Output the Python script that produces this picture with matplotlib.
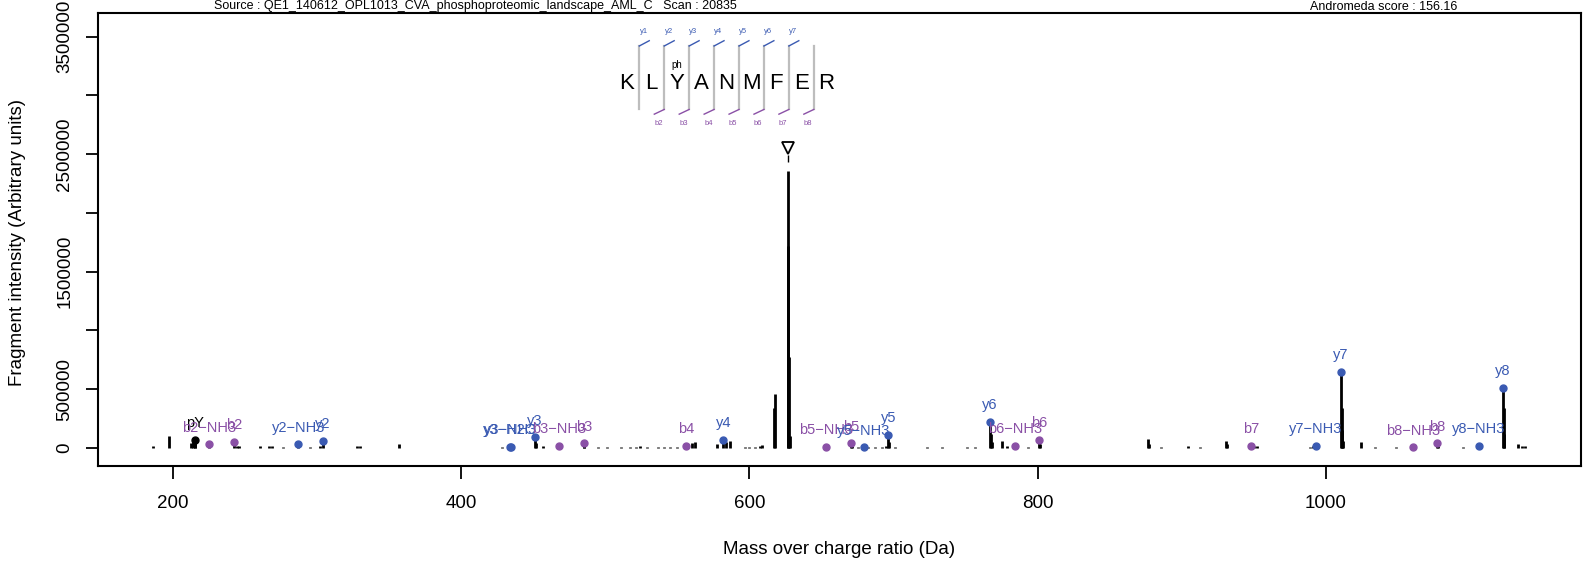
import numpy as np
import matplotlib
matplotlib.use("Agg")
import matplotlib.pyplot as plt

plt.rcParams["font.family"] = ["Liberation Sans", "DejaVu Sans"]

# -----------------------------
# data
# -----------------------------
peak_mz = [186.3, 197.4, 212.5, 213.5, 215.5, 244.0, 245.5, 260.4, 266.5, 268.7,
           276.0, 295.0, 302.0, 327.5, 329.8, 357.0,
           428.0, 452.0, 456.8, 485.5, 495.0, 501.0, 511.0, 517.0, 521.0, 524.0,
           529.0, 536.5, 541.0, 545.0, 549.5, 560.0, 562.0, 577.5, 584.0, 586.5,
           597.0, 600.0, 604.0, 607.0, 609.0, 617.2, 617.8, 626.5, 626.9, 627.3,
           627.8, 671.0, 675.4, 682.0, 687.0, 692.0, 695.0, 697.0, 701.0, 723.0,
           733.4, 750.8, 756.6, 767.5, 768.0, 775.0, 778.5, 793.6, 801.5,
           876.8, 877.5, 885.9, 904.6, 912.7, 930.5, 931.2, 950.0, 952.0, 989.0,
           991.0, 1011.0, 1011.5, 1012.0, 1024.4, 1034.0, 1049.0, 1078.0, 1095.4,
           1123.5, 1124.0, 1133.6, 1136.0, 1138.0]
peak_int = [0.02e6, 0.10e6, 0.04e6, 0.06e6, 0.07e6, 0.02e6, 0.015e6, 0.02e6, 0.015e6, 0.02e6,
            0.01e6, 0.01e6, 0.02e6, 0.015e6, 0.015e6, 0.03e6,
            0.01e6, 0.04e6, 0.02e6, 0.03e6, 0.01e6, 0.01e6, 0.01e6, 0.01e6, 0.01e6, 0.015e6,
            0.01e6, 0.01e6, 0.01e6, 0.01e6, 0.01e6, 0.04e6, 0.05e6, 0.03e6, 0.05e6, 0.06e6,
            0.01e6, 0.01e6, 0.01e6, 0.015e6, 0.025e6, 0.34e6, 0.46e6, 2.36e6, 1.72e6, 0.77e6,
            0.10e6, 0.02e6, 0.01e6, 0.01e6, 0.01e6, 0.01e6, 0.015e6, 0.05e6, 0.01e6, 0.01e6,
            0.01e6, 0.01e6, 0.01e6, 0.12e6, 0.05e6, 0.06e6, 0.02e6, 0.01e6, 0.03e6,
            0.08e6, 0.03e6, 0.01e6, 0.015e6, 0.01e6, 0.06e6, 0.03e6, 0.015e6, 0.015e6, 0.01e6,
            0.015e6, 0.34e6, 0.15e6, 0.06e6, 0.05e6, 0.01e6, 0.01e6, 0.03e6, 0.01e6,
            0.34e6, 0.12e6, 0.03e6, 0.02e6, 0.02e6]

ion_labels = ["pY", "b2\u2212NH3", "b2", "y2\u2212NH3", "y2", "y3\u2212H2O", "y3\u2212NH3", "y3",
              "b3\u2212NH3", "b3", "b4", "y4", "b5\u2212NH3", "b5", "y5\u2212NH3", "y5", "y6",
              "b6\u2212NH3", "b6", "b7", "y7\u2212NH3", "y7", "b8\u2212NH3", "b8", "y8\u2212NH3", "y8"]
ion_mz = [215.0, 225.0, 242.3, 287.0, 303.9, 433.7, 434.5, 451.2,
          468.1, 485.2, 556.0, 581.9, 653.2, 670.5, 679.3, 696.4, 767.0,
          784.3, 801.2, 948.1, 993.2, 1010.5, 1060.3, 1077.4, 1106.3, 1123.0]
ion_int = [0.07e6, 0.03e6, 0.05e6, 0.03e6, 0.06e6, 0.01e6, 0.012e6, 0.09e6,
           0.02e6, 0.04e6, 0.02e6, 0.07e6, 0.01e6, 0.04e6, 0.005e6, 0.11e6, 0.22e6,
           0.02e6, 0.07e6, 0.02e6, 0.02e6, 0.65e6, 0.005e6, 0.04e6, 0.02e6, 0.51e6]
ion_type = ["imm", "b", "b", "y", "y", "y", "y", "y",
            "b", "b", "b", "y", "b", "b", "y", "y", "y",
            "b", "b", "b", "y", "y", "b", "b", "y", "y"]

precursor_mz = 626.5
precursor_int = 2.55e6

sequence = ["K", "L", "Y", "A", "N", "M", "F", "E", "R"]
y_frag_labels = ["y1", "y2", "y3", "y4", "y5", "y6", "y7"]
b_frag_labels = ["b2", "b3", "b4", "b5", "b6", "b7", "b8"]

source_text = "Source : QE1_140612_OPL1013_CVA_phosphoproteomic_landscape_AML_C   Scan : 20835"
score_text = "Andromeda score : 156.16"

blue = "#3A5AB2"
purple = "#8A50A6"
colors = {"y": blue, "b": purple, "imm": "black"}

# -----------------------------
# figure
# -----------------------------
fig = plt.figure(figsize=(15.96, 5.64), dpi=100)
ax = fig.add_axes([0.0617, 0.1738, 0.9288, 0.8030])

ax.vlines(peak_mz, 0, peak_int, color="black", lw=2)
ax.vlines(ion_mz, 0, ion_int, color="black", lw=2)

for lab, mz, it, t in zip(ion_labels, ion_mz, ion_int, ion_type):
    c = colors[t]
    ax.plot(mz, it, "o", color=c, ms=5, zorder=3)
    ax.annotate(lab, (mz, it), xytext=(0, 12), textcoords="offset points",
                ha="center", va="center", color=c, fontsize=10.5)

# precursor marker
ax.plot(precursor_mz, precursor_int, marker="v", mfc="white", mec="black", ms=9, mew=1.3)
ax.vlines(precursor_mz, 2.43e6, 2.49e6, color="black", lw=1)

# peptide sequence with fragment ladder
x0 = 514.9      # first letter position (Da)
step = 17.3
y_seq = 3.10e6
for i, aa in enumerate(sequence):
    ax.text(x0 + i * step, y_seq, aa, ha="center", va="center", fontsize=16)
ax.text(x0 + 2 * step, 3.255e6, "ph", ha="center", va="center", fontsize=7)

for k in range(len(sequence) - 1):
    xs = x0 + (k + 0.5) * step
    ax.plot([xs, xs], [2.88e6, 3.42e6], color="#BDBDBD", lw=1.6)
    if k < len(y_frag_labels):
        ax.plot([xs, xs + 6.9], [3.42e6, 3.465e6], color=blue, lw=1)
        ax.text(xs + 3, 3.54e6, y_frag_labels[k], ha="center", va="center",
                fontsize=5.5, color=blue)
    if k >= 1:
        ax.plot([xs, xs - 6.9], [2.88e6, 2.84e6], color=purple, lw=1)
        ax.text(xs - 4, 2.757e6, b_frag_labels[k - 1], ha="center", va="center",
                fontsize=5.5, color=purple)

# axes
ax.set_xlim(148.2, 1177.0)
ax.set_ylim(-0.153e6, 3.700e6)
ax.set_xticks([200, 400, 600, 800, 1000])
yt = np.arange(0, 3.5e6 + 1, 5e5)
ax.set_yticks(yt)
ax.set_yticklabels([("%d" % v) if (v / 5e5) % 2 == 1 or v == 0 else "" for v in yt],
                   rotation=90, va="center")
ax.tick_params(direction="out", length=9, width=1.3, labelsize=13.5)
ax.tick_params(axis="x", pad=12)
ax.tick_params(axis="y", pad=9)
for s in ax.spines.values():
    s.set_linewidth(1.5)

fig.text(839 / 1596, 1 - 549 / 564, "Mass over charge ratio (Da)", ha="center", va="center", fontsize=13.5)
fig.text(18 / 1596, 1 - 242 / 564, "Fragment intensity (Arbitrary units)", ha="center", va="center",
         rotation=90, fontsize=13.5)
fig.text(214 / 1596, 1 - 9.5 / 564, source_text, ha="left", va="baseline", fontsize=9)
fig.text(1384 / 1596, 1 - 9.5 / 564, score_text, ha="center", va="baseline", fontsize=9)

fig.savefig("out.png", dpi=100)
